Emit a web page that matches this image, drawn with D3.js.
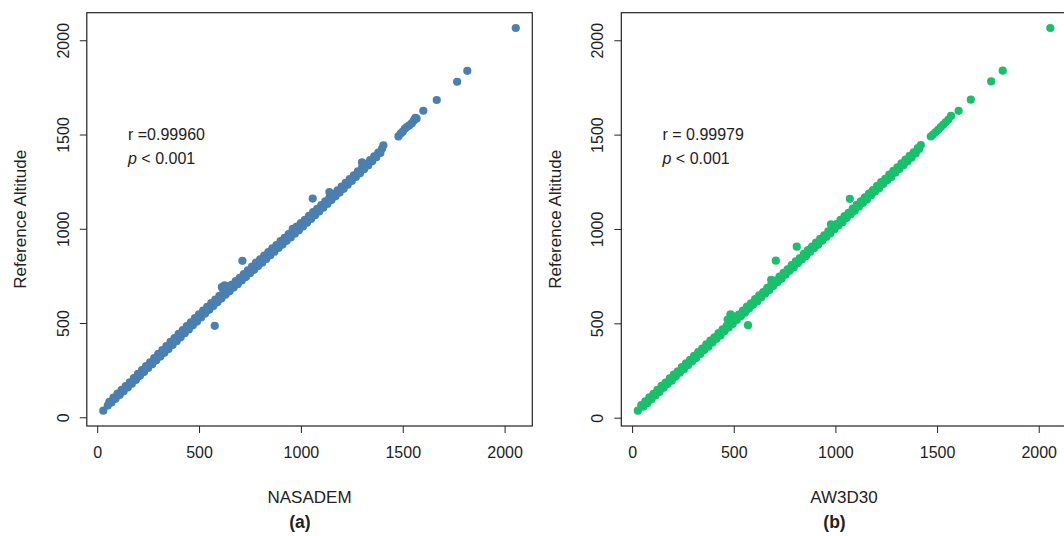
<!DOCTYPE html>
<html>
<head>
<meta charset="utf-8">
<script src="https://cdn.jsdelivr.net/npm/d3@7"></script>
<style>
  body { margin: 0; background: #fff; }
  text { font-family: "Liberation Sans", Arial, sans-serif; fill: #222; }
</style>
</head>
<body>
<div id="wrapper"></div>
<script>
// NASADEM vs reference altitude  [x, y]
const nasademPts = [
  [30,35],[52,62],[60,82],[70,78],[80,104],[90,98],[100,126],[110,118],[120,146],[130,138],
  [140,166],[150,158],[160,186],[170,178],[180,208],[190,198],[200,230],[210,220],[220,250],[230,240],
  [240,272],[250,262],[260,292],[270,282],[280,314],[290,302],[300,336],[310,322],[320,356],[330,342],
  [340,378],[350,362],[360,400],[370,384],[380,420],[390,404],[400,442],[410,424],[420,462],[430,446],
  [440,484],[450,466],[460,504],[470,488],[480,526],[490,508],[500,546],[510,530],[520,566],[530,550],
  [540,586],[550,570],[560,606],[570,590],[580,624],[590,610],[600,644],[610,630],[620,664],[630,650],
  [640,684],[650,668],[660,702],[670,688],[680,722],[690,706],[700,740],[710,726],[720,760],[730,744],
  [740,780],[750,764],[760,800],[770,782],[780,820],[790,802],[800,838],[810,820],[820,858],[830,840],
  [840,876],[850,860],[860,896],[870,878],[880,914],[890,898],[900,934],[910,916],[920,952],[930,936],
  [940,972],[950,954],[960,990],[970,974],[980,1010],[990,992],[1000,1030],[1010,1012],[1020,1048],[1030,1032],
  [1040,1068],[1050,1052],[1060,1088],[1070,1072],[1080,1106],[1090,1092],[1100,1126],[1110,1112],[1120,1146],[1130,1132],
  [1140,1164],[1150,1152],[1160,1184],[1170,1172],[1180,1204],[1190,1192],[1200,1224],[1210,1212],[1220,1244],[1230,1234],
  [1240,1264],[1250,1254],[1260,1284],[1270,1274],[1280,1304],[1290,1294],[1300,1324],[1310,1316],[1320,1344],[1330,1336],
  [1340,1364],[1350,1358],[1360,1384],[1370,1380],[1380,1404],[1390,1402],[1398,1424],[1405,1443],
  // bumps along the band
  [300,330],[440,478],[455,490],[480,520],[545,580],[612,690],[625,700],[640,695],[650,688],
  [960,1000],[980,1012],[1140,1195],[1300,1352],[1310,1345],
  // outliers
  [577,485],[713,830],[1058,1160],
  // upper part
  [1479,1490],[1490,1505],[1500,1515],[1510,1530],[1520,1540],[1532,1548],[1545,1560],[1555,1575],
  [1562,1588],[1568,1585],[1601,1626],[1667,1683],[1767,1780],[1817,1838],[2055,2065]
];

// AW3D30 vs reference altitude  [x, y]
const aw3d30Pts = [
  [28,37],[45,66],[55,58],[65,86],[75,76],[85,108],[95,97],[105,126],[115,118],[125,148],
  [135,136],[145,168],[155,158],[165,186],[175,178],[185,208],[195,196],[205,228],[215,218],[225,246],
  [235,238],[245,268],[255,256],[265,288],[275,278],[285,306],[295,298],[305,328],[315,316],[325,348],
  [335,338],[345,366],[355,358],[365,388],[375,376],[385,408],[395,398],[405,426],[415,418],[425,448],
  [435,436],[445,468],[455,458],[465,486],[475,478],[485,508],[495,496],[505,528],[515,518],[525,546],
  [535,538],[545,568],[555,556],[565,588],[575,578],[585,606],[595,598],[605,628],[615,616],[625,648],
  [635,638],[645,666],[655,658],[665,688],[675,676],[685,708],[695,698],[705,726],[715,718],[725,748],
  [735,736],[745,768],[755,758],[765,786],[775,778],[785,808],[795,796],[805,828],[815,818],[825,846],
  [835,838],[845,868],[855,856],[865,888],[875,878],[885,906],[895,898],[905,928],[915,916],[925,948],
  [935,938],[945,966],[955,958],[965,988],[975,976],[985,1008],[995,998],[1005,1026],[1015,1018],[1025,1048],
  [1035,1036],[1045,1068],[1055,1058],[1065,1086],[1075,1078],[1085,1108],[1095,1096],[1105,1128],[1115,1118],[1125,1146],
  [1135,1138],[1145,1168],[1155,1156],[1165,1188],[1175,1178],[1185,1206],[1195,1198],[1205,1228],[1215,1216],[1225,1248],
  [1235,1238],[1245,1266],[1255,1258],[1265,1288],[1275,1276],[1285,1308],[1295,1298],[1305,1326],[1315,1318],[1325,1348],
  [1335,1338],[1345,1368],[1355,1358],[1365,1388],[1375,1378],[1385,1406],[1395,1400],[1405,1428],[1412,1424],[1420,1444],
  // bumps along the band
  [470,520],[484,548],[492,540],[684,731],[978,1025],[1180,1195],
  // outliers
  [570,490],[707,832],[810,906],[1071,1160],
  // upper part
  [1469,1490],[1480,1500],[1492,1512],[1505,1525],[1518,1540],[1530,1552],[1542,1565],[1556,1580],
  [1569,1599],[1606,1626],[1666,1685],[1766,1782],[1823,1839],[2057,2065]
];

const xTicks = [0, 500, 1000, 1500, 2000];
const yTicks = [0, 500, 1000, 1500, 2000];

const panels = [
  { data: nasademPts, color: "#4a7fb0", xTitle: "NASADEM", tag: "(a)", r: "r =0.99960" },
  { data: aw3d30Pts,  color: "#19c06c", xTitle: "AW3D30",  tag: "(b)", r: "r =  0.99979" }
];

let dimensions = {
  width: 1064,
  height: 536,
  panelWidth: 534.5,
  box: { left: 86.8, right: 532.3, top: 12.7, bottom: 426 }
};

const svg = d3.select("#wrapper").append("svg")
  .attr("width", dimensions.width)
  .attr("height", dimensions.height);

// R style axis range: data extent plus 4% on each side
function padded(ext) {
  const span = ext[1] - ext[0];
  return [ext[0] - span * 0.04, ext[1] + span * 0.04];
}

function drawPanel(p, i) {
  const box = dimensions.box;
  const g = svg.append("g").attr("transform", `translate(${i * dimensions.panelWidth},0)`);

  const xScale = d3.scaleLinear()
    .domain(padded(d3.extent(p.data, d => d[0])))
    .range([box.left, box.right]);
  const yScale = d3.scaleLinear()
    .domain(padded(d3.extent(p.data, d => d[1])))
    .range([box.bottom, box.top]);

  g.selectAll("circle")
    .data(p.data)
    .enter()
    .append("circle")
    .attr("cx", d => xScale(d[0]))
    .attr("cy", d => yScale(d[1]))
    .attr("r", 4.1)
    .attr("fill", p.color);

  g.append("rect")
    .attr("x", box.left).attr("y", box.top)
    .attr("width", box.right - box.left).attr("height", box.bottom - box.top)
    .attr("fill", "none").attr("stroke", "#222").attr("stroke-width", 1.2);

  const xAxis = g.append("g")
    .attr("transform", `translate(0,${box.bottom})`)
    .call(d3.axisBottom(xScale).tickValues(xTicks).tickFormat(d3.format("d")).tickSize(7).tickPadding(14));
  xAxis.select(".domain").remove();
  xAxis.selectAll("line").attr("stroke", "#222");
  xAxis.selectAll("text").style("font-size", "16px").attr("fill", "#222")
    .attr("font-family", "Liberation Sans, Arial, sans-serif");

  const yAxis = g.append("g")
    .attr("transform", `translate(${box.left},0)`)
    .call(d3.axisLeft(yScale).tickValues(yTicks).tickFormat(d3.format("d")).tickSize(7));
  yAxis.select(".domain").remove();
  yAxis.selectAll("line").attr("stroke", "#222");
  yAxis.selectAll("text")
    .attr("x", 0).attr("y", -18).attr("dy", 0)
    .attr("transform", "rotate(-90)")
    .attr("text-anchor", "middle")
    .attr("fill", "#222")
    .attr("font-family", "Liberation Sans, Arial, sans-serif")
    .style("font-size", "16px");

  g.append("text")
    .attr("transform", `translate(26,${(box.top + box.bottom) / 2}) rotate(-90)`)
    .attr("text-anchor", "middle")
    .style("font-size", "17px")
    .text("Reference Altitude");

  g.append("text")
    .attr("x", (box.left + box.right) / 2).attr("y", 503)
    .attr("text-anchor", "middle")
    .style("font-size", "17px")
    .text(p.xTitle);

  g.append("text")
    .attr("x", 300).attr("y", 528)
    .attr("text-anchor", "middle")
    .style("font-size", "17.5px").style("font-weight", "bold")
    .text(p.tag);

  const note = g.append("g").attr("transform", "translate(128,0)");
  note.append("text").attr("y", 140).style("font-size", "16px").text(p.r);
  const pl = note.append("text").attr("y", 164).style("font-size", "16px");
  pl.append("tspan").style("font-style", "italic").text("p");
  pl.append("tspan").text(" < 0.001");
}

panels.forEach(drawPanel);
</script>
</body>
</html>
